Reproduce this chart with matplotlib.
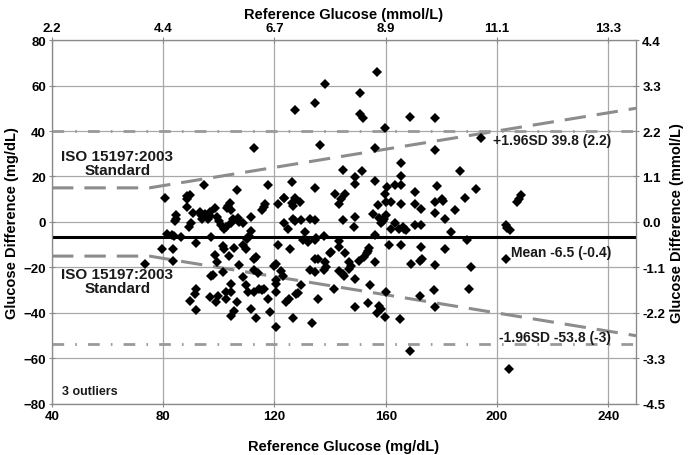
import matplotlib
matplotlib.use("Agg")
import numpy as np
from matplotlib import pyplot as plt

plt.rcParams['font.family'] = ['Liberation Sans', 'DejaVu Sans']
plt.rcParams['font.weight'] = 'bold'

# reference glucose (mg/dL) and difference (mg/dL)
ref_glucose = [
    156.9, 138.3, 150.9, 134.5, 127.4, 150.9, 151.7, 168.8, 177.8, 159.6, 194.2, 112.5,
    136.4, 156.0, 177.8, 165.4, 144.5, 151.5, 186.7, 165.4, 149.1,
    117.6, 126.3, 134.7, 148.8, 156.0, 160.4, 163.3, 165.4, 170.6, 178.6, 159.6, 141.9,
    145.4, 123.3, 127.5, 192.3, 208.5, 207.3, 207.9, 188.5, 180.4, 94.5, 106.6, 89.5,
    88.7, 88.4, 80.5, 143.9, 143.3, 126.3, 129.3, 157.3, 160.0, 161.9, 165.4, 170.6,
    172.6, 177.6, 180.6, 185.0, 177.6, 181.2, 88.5, 98.5, 103.4, 104.1, 102.9, 104.5,
    116.2, 115.6, 116.7, 121.2, 123.3, 126.6,
    84.5, 84.7, 84.1, 90.7, 93.1, 93.7, 94.9, 96.7, 96.7, 96.1, 94.1, 89.9, 89.3, 99.3,
    100.2, 100.8, 101.8, 102.6, 104.4, 105.0, 106.8, 107.4, 108.6, 111.6, 111.6, 111.0,
    110.2, 81.4, 83.0, 83.9, 86.5, 97.3, 91.7, 79.6, 83.5, 101.4, 101.8, 105.6, 108.6,
    109.8, 123.6, 124.8, 126.6, 127.2, 121.4, 125.7, 155.3, 157.7, 158.9, 158.3, 159.5,
    160.1, 149.1, 148.7, 144.5, 129.6, 132.6, 134.4, 130.8, 130.2, 132.0, 134.4, 135.0,
    137.9, 143.3, 143.3, 140.3, 154.1, 153.5, 156.2, 161.9, 163.4, 164.9, 166.7, 166.1,
    167.3, 170.6, 172.6, 183.4, 161.3, 165.4, 172.6, 181.3, 189.4, 203.1, 203.7, 204.6,
    203.1, 204.3,
    83.5, 73.4, 98.5, 99.5, 103.6, 107.4, 97.9, 97.3, 101.4, 108.6, 112.5, 113.4, 112.8,
    114.0, 120.0, 120.6, 122.4, 123.0, 120.4, 120.6, 91.9, 91.3, 89.5, 91.7, 96.7, 98.8,
    99.7, 102.7, 102.7, 104.5, 104.5, 106.5, 105.6, 104.5, 109.6, 110.4, 112.5, 114.6,
    115.6, 116.4, 111.6, 113.4, 117.6, 118.5, 120.6, 120.6, 124.2, 125.4, 126.6, 128.4,
    134.7, 135.5, 138.3, 138.5, 137.9, 140.1, 145.5, 146.9, 147.5, 146.9, 150.5, 152.3,
    153.3, 156.2, 132.6, 134.4, 143.3, 144.5, 145.1, 149.1, 129.6, 127.8, 135.5, 141.5,
    154.4, 149.1, 153.5, 157.6, 158.2, 157.0, 159.8, 133.5, 165.2, 160.0, 169.0, 172.4,
    173.0, 177.6, 172.4, 177.4, 177.6, 190.0, 190.6, 168.8,
]
glucose_diff = [
    65.8, 60.8, 56.9, 52.2, 49.4, 47.3, 45.9, 46.3, 45.7, 41.3, 37.1, 32.7,
    33.9, 32.4, 31.6, 26.1, 22.7, 22.2, 22.2, 20.2, 19.8,
    16.1, 17.6, 15.1, 16.9, 18.0, 15.6, 16.3, 16.3, 13.4, 15.8, 12.5, 12.2,
    12.2, 10.7, 10.7, 14.7, 11.7, 8.8, 10.3, 10.7, 10.0, 16.1, 14.1, 11.9,
    11.4, 10.3, 10.4, 10.0, 7.8, 8.2, 8.8, 7.3, 8.8, 8.8, 8.1, 7.8,
    5.6, 9.0, 9.2, 5.3, 3.8, 1.2, 6.6, 6.3, 7.0, 8.5, 6.3, 5.1,
    6.8, 5.1, 7.8, 8.1, 10.4, 7.0,
    2.9, 1.2, 0.5, 3.8, 4.4, 2.9, 3.4, 4.4, 2.6, 1.2, 1.5, -0.6, -2.0, 2.4,
    0.4, -1.5, -2.9, -2.0, -0.3, 1.2, 1.9, 0.0, -0.6, 2.4, -4.0, -6.2,
    -7.6, -5.1, -5.8, -6.2, -6.4, -6.6, -9.1, -11.7, -12.0, -10.5, -11.7, -11.3, -10.2,
    -11.7, -0.3, -3.2, 1.2, 0.4, -10.2, -12.0, 3.4, 1.9, 0.4, -0.6, 1.2,
    2.9, 2.4, -2.0, 0.9, 0.9, 1.5, 0.7, -4.4, -8.0, -8.8, -8.0, -6.9,
    -6.2, -8.4, -10.8, -13.0, -11.3, -12.7, -5.8, -3.2, -0.6, -3.2, -3.2, -2.0,
    -3.5, -1.5, -1.5, -4.4, -10.2, -10.2, -10.8, -12.0, -7.9, -1.5, -2.8, -3.6,
    -16.1, -64.7,
    -17.1, -18.6, -14.5, -17.6, -14.9, -19.0, -23.4, -23.7, -22.0, -24.0, -16.1, -15.2, -21.2,
    -22.5, -19.3, -18.6, -21.5, -23.7, -25.5, -27.4, -29.3, -31.8, -34.7, -38.8, -33.2, -35.2,
    -32.5, -30.8, -33.7, -27.4, -30.8, -35.4, -39.1, -41.3, -27.8, -30.8, -31.0, -29.6,
    -29.9, -29.3, -38.4, -42.3, -34.0, -39.6, -30.8, -46.2, -35.4, -34.0, -42.3, -31.3,
    -16.1, -16.4, -17.8, -20.0, -21.1, -13.8, -13.5, -17.8, -19.3, -20.5, -17.1, -15.2,
    -13.8, -17.4, -21.1, -22.2, -21.5, -23.0, -23.7, -24.9, -27.8, -31.8, -33.7, -29.3,
    -27.8, -37.2, -35.7, -36.9, -38.1, -40.1, -41.6, -44.5, -42.8, -31.0, -18.3, -17.1,
    -16.4, -18.9, -32.5, -29.9, -37.2, -29.3, -20.0, -56.7,
]

mean_diff = -6.5
upper_loa = 39.8
lower_loa = -53.8

# ISO 15197:2003 limits: +/-15 mg/dL below 75, +/-20% above
iso_x = [40, 75, 250]
iso_upper = [15, 15, 50]
iso_lower = [-15, -15, -50]

x_ticks = [40, 80, 120, 160, 200, 240]
x_ticks_mmol = ['2.2', '4.4', '6.7', '8.9', '11.1', '13.3']
y_ticks = [-80, -60, -40, -20, 0, 20, 40, 60, 80]
y_ticks_mmol = ['-4.5', '-3.3', '-2.2', '-1.1', '0.0', '1.1', '2.2', '3.3', '4.4']

fig = plt.figure(figsize=(6.88, 4.56), dpi=100)
ax = fig.add_axes([0.0756, 0.112, 0.8488, 0.798])

ax.set_xlim(40, 250)
ax.set_ylim(-80, 80)
ax.set_xticks(x_ticks)
ax.set_yticks(y_ticks)
ax.grid(True, color='#a8a8a8', lw=0.9)
ax.set_axisbelow(True)

grey = '#8c8c8c'
ax.plot(iso_x, iso_upper, color=grey, lw=2.2, ls=(0, (7, 3.6)), zorder=2)
ax.plot(iso_x, iso_lower, color=grey, lw=2.2, ls=(0, (7, 3.6)), zorder=2)
ax.axhline(upper_loa, color='#999999', lw=2.0, ls=(0, (4.2, 4.0, 0.6, 4.0)), zorder=2)
ax.axhline(lower_loa, color='#999999', lw=2.0, ls=(0, (4.2, 4.0, 0.6, 4.0)), zorder=2)
ax.axhline(mean_diff, color='black', lw=2.2, zorder=3)

ax.plot(ref_glucose, glucose_diff, 'D', color='black', ms=4.7, mew=0, zorder=4)

txt = dict(fontsize=10, fontweight='bold', color='#1a1a1a')
ax.text(63.5, 26, 'ISO 15197:2003\nStandard', ha='center', va='center', linespacing=1.0,
        fontsize=11, fontweight='bold', color='#1a1a1a')
ax.text(63.5, -26, 'ISO 15197:2003\nStandard', ha='center', va='center', linespacing=1.0,
        fontsize=11, fontweight='bold', color='#1a1a1a')
ax.text(241, 36, '+1.96SD 39.8 (2.2)', ha='right', va='center', **txt)
ax.text(241, -13, 'Mean -6.5 (-0.4)', ha='right', va='center', **txt)
ax.text(241, -50.5, '-1.96SD -53.8 (-3)', ha='right', va='center', **txt)
ax.text(43.5, -74.5, '3 outliers', ha='left', va='center', fontsize=9, fontweight='bold', color='#1a1a1a')

for s in ax.spines.values():
    s.set_color('#8a8a8a')
ax.tick_params(direction='inout', length=5, color='#8a8a8a', labelsize=9.5, pad=2)
ax.set_xlabel('Reference Glucose (mg/dL)', fontsize=10.5, fontweight='bold', labelpad=12)
ax.set_ylabel('Glucose Difference (mg/dL)', fontsize=10.5, fontweight='bold', labelpad=3)

ax_top = ax.twiny()
ax_top.set_xlim(ax.get_xlim())
ax_top.set_xticks(x_ticks)
ax_top.set_xticklabels(x_ticks_mmol)
ax_top.tick_params(direction='inout', length=5, color='#8a8a8a', labelsize=9.5, pad=2)
ax_top.set_xlabel('Reference Glucose (mmol/L)', fontsize=10.5, fontweight='bold', labelpad=3)

ax_r = ax.twinx()
ax_r.set_ylim(ax.get_ylim())
ax_r.set_yticks(y_ticks)
ax_r.set_yticklabels(y_ticks_mmol)
ax_r.tick_params(direction='inout', length=5, color='#8a8a8a', labelsize=9.5, pad=2)
ax_r.set_ylabel('Glucose Difference (mmol/L)', fontsize=10.5, fontweight='bold', labelpad=3)
for a in (ax_top, ax_r):
    for s in a.spines.values():
        s.set_color('#8a8a8a')

fig.savefig('out.png', dpi=100)
